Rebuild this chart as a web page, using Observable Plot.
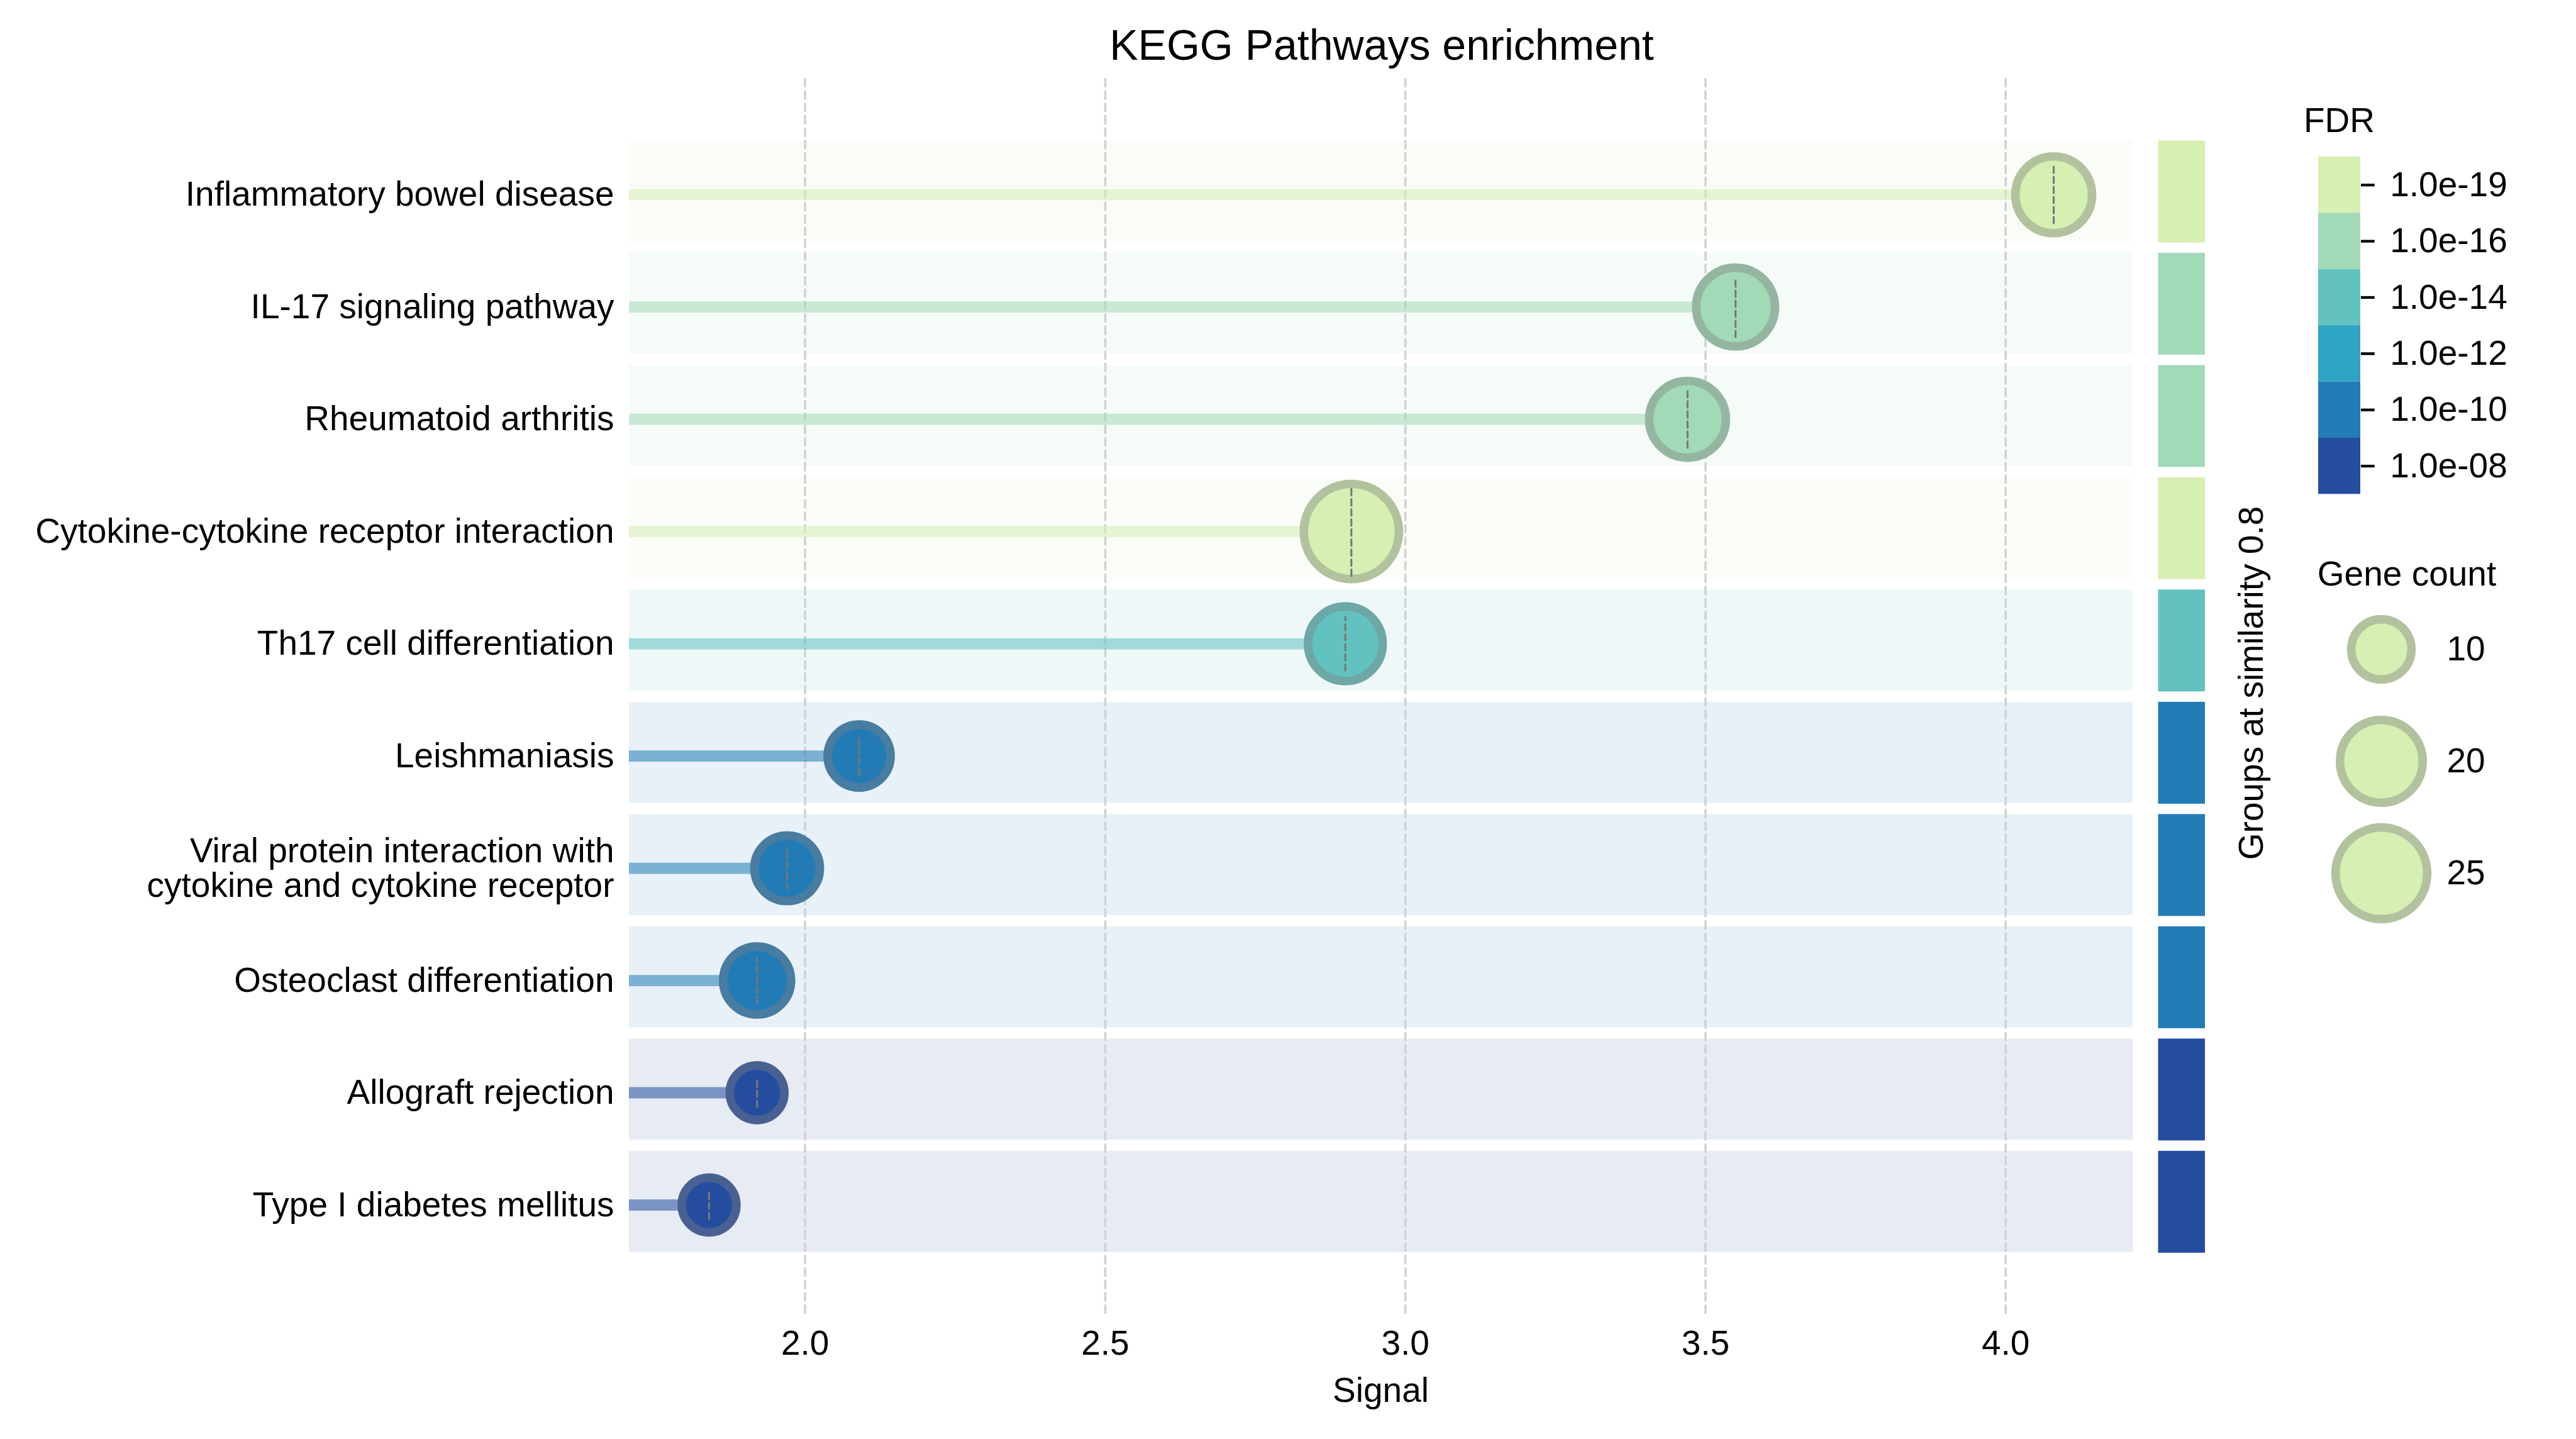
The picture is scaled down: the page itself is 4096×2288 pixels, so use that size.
<!DOCTYPE html>
<html><head><meta charset="utf-8">
<script src="https://cdn.jsdelivr.net/npm/d3@7"></script>
<script src="https://cdn.jsdelivr.net/npm/@observablehq/plot@0.6"></script>
<style>
html,body{margin:0;padding:0;background:#fff;}
#root{position:relative;width:4096px;height:2288px;overflow:hidden;font-family:"Liberation Sans",Arial,sans-serif;color:#000;background:#fff;}
#root > svg{position:absolute;left:0;top:0;}
.t{position:absolute;line-height:1;white-space:nowrap;}
</style></head><body><div id="root"></div>
<script>
// ---- data ----
const pathways = [
  "Inflammatory bowel disease",
  "IL-17 signaling pathway",
  "Rheumatoid arthritis",
  "Cytokine-cytokine receptor interaction",
  "Th17 cell differentiation",
  "Leishmaniasis",
  "Viral protein interaction with\ncytokine and cytokine receptor",
  "Osteoclast differentiation",
  "Allograft rejection",
  "Type I diabetes mellitus"
];
const signal    = [4.08, 3.55, 3.47, 2.91, 2.90, 2.09, 1.97, 1.92, 1.92, 1.84];
const geneCount = [17, 18, 17, 27, 16, 11, 12, 13, 8, 8];
const fdr       = [1e-19, 1e-16, 1e-16, 1e-19, 1e-14, 1e-10, 1e-10, 1e-10, 1e-8, 1e-8];
const fdrBins       = [1e-19, 1e-16, 1e-14, 1e-12, 1e-10, 1e-8];
const fdrTickLabels = ["1.0e-19", "1.0e-16", "1.0e-14", "1.0e-12", "1.0e-10", "1.0e-08"];
const fdrColors     = ["#d6efb3", "#a2dab8", "#62c2c0", "#2fa3c3", "#237bb6", "#244d9f"];
const xTicks   = [2.0, 2.5, 3.0, 3.5, 4.0];
const xDomain  = [1.707, 4.212];
const sizeLegend = [10, 20, 25];

// ---- layout ----
const W = 4096, H = 2288;
const root = document.getElementById("root");
const data = pathways.map((name, i) => ({name, signal: signal[i], count: geneCount[i], fdr: fdr[i]}));
const baseStyle = {fontFamily: '"Liberation Sans", Arial, sans-serif', background: "transparent", overflow: "visible", color: "#000"};
const colorOpt = {type: "ordinal", domain: fdrBins, range: fdrColors};
const rOpt = {type: "pow", exponent: 0.5, domain: [10, 25], range: [47.9, 72.9]};
const yOpt = {type: "band", domain: pathways, range: [228.9, 1995.8], paddingInner: 0.1, paddingOuter: 0, round: false};
const bandShift = 5.4;
const ringW = 13.6;
const vline = {draw(ctx, l) { ctx.moveTo(0, 0); ctx.lineTo(0, -l); }};

const main = Plot.plot({
  width: W, height: H,
  marginLeft: 1000, marginRight: 705, marginTop: 124, marginBottom: 197.5,
  style: {...baseStyle, fontSize: "55px"},
  x: {domain: xDomain},
  y: yOpt,
  color: colorOpt,
  r: rOpt,
  length: {type: "linear", domain: [8, 27], range: [45, 141]},
  marks: [
    Plot.barX(data, {y: "name", x1: () => xDomain[0], x2: () => xDomain[1], fill: "fdr", fillOpacity: 0.11,
      insetTop: -bandShift, insetBottom: bandShift}),
    Plot.ruleX(xTicks, {x: d => d, stroke: "#d2d2d2", strokeWidth: 3.6, strokeDasharray: "14.7,5"}),
    Plot.ruleY(data, {y: "name", x1: () => xDomain[0], x2: "signal", stroke: "fdr", strokeOpacity: 0.55, strokeWidth: 17.8, strokeLinecap: "butt"}),
    Plot.dot(data, {x: "signal", y: "name", r: "count", fill: "fdr", stroke: "fdr", strokeWidth: ringW}),
    Plot.dot(data, {x: "signal", y: "name", r: "count", fill: "none", stroke: "#808080", strokeOpacity: 0.4, strokeWidth: ringW}),
    Plot.vector(data, {x: "signal", y: "name", length: "count", rotate: 0, anchor: "middle", shape: vline,
      fill: "none", stroke: "#777777", strokeWidth: 3.1, strokeDasharray: "10,6"}),
    Plot.axisX({ticks: xTicks, tickFormat: ".1f", tickSize: 0, tickPadding: 24, fontSize: 55, label: null}),
    Plot.axisY({tickSize: 0, tickPadding: 24, fontSize: 55, label: null})
  ]
});
root.appendChild(main);

// group colour strip on the right of the plot
const strip = Plot.plot({
  width: W, height: H,
  marginLeft: 3431.5, marginRight: W - 3506, marginTop: 0, marginBottom: 0,
  style: baseStyle,
  y: {...yOpt, axis: null},
  color: colorOpt,
  marks: [Plot.cell(data, {y: "name", fill: "fdr", insetTop: -bandShift, insetBottom: 4})]
});
root.appendChild(strip);

// FDR colour bar legend
const fdrLegend = Plot.plot({
  width: W, height: H,
  marginLeft: 3686, marginRight: W - 3753, marginTop: 249, marginBottom: H - 785.3,
  style: baseStyle,
  y: {type: "band", domain: fdrBins, padding: 0, round: false},
  color: colorOpt,
  marks: [
    Plot.cell(fdrBins, {y: d => d, fill: d => d}),
    Plot.axisY({anchor: "right", tickSize: 21.7, tickPadding: 25, strokeWidth: 4.3, fontSize: 55,
      tickFormat: d => fdrTickLabels[fdrBins.indexOf(d)], label: null})
  ]
});
root.appendChild(fdrLegend);

// Gene count size legend
const sizeLeg = Plot.plot({
  width: W, height: H,
  marginLeft: 3686, marginRight: W - 3886, marginTop: 0, marginBottom: 0,
  style: baseStyle,
  y: {type: "point", domain: sizeLegend, range: [1032, 1388], padding: 0},
  r: rOpt,
  color: colorOpt,
  marks: [
    Plot.dot(sizeLegend, {y: d => d, r: d => d, fill: () => fdrBins[0], stroke: () => fdrBins[0], strokeWidth: ringW}),
    Plot.dot(sizeLegend, {y: d => d, r: d => d, fill: "none", stroke: "#808080", strokeOpacity: 0.4, strokeWidth: ringW}),
    Plot.axisY({anchor: "right", tickSize: 0, tickPadding: 4, fontSize: 55, label: null})
  ]
});
root.appendChild(sizeLeg);

// ---- text ----
function addText(txt, fs, left, baseline, extra) {
  const d = document.createElement("div");
  d.className = "t";
  d.textContent = txt;
  d.style.fontSize = fs + "px";
  d.style.left = left + "px";
  d.style.top = (baseline - 0.8465 * fs) + "px";
  d.style.transform = "translateX(-50%)";
  if (extra) Object.assign(d.style, extra);
  root.appendChild(d);
  return d;
}
addText("KEGG Pathways enrichment", 68, 2197, 94.4);
addText("Signal", 55, 2195.5, 2229.5);
addText("FDR", 55, 3719.5, 211);
addText("Gene count", 55, 3827, 932);
const g = document.createElement("div");
g.className = "t";
g.textContent = "Groups at similarity 0.8";
g.style.fontSize = "55px";
g.style.left = "3579px";
g.style.top = "1086px";
g.style.transform = "translate(-50%,-50%) rotate(-90deg)";
root.appendChild(g);
</script>
</body></html>
